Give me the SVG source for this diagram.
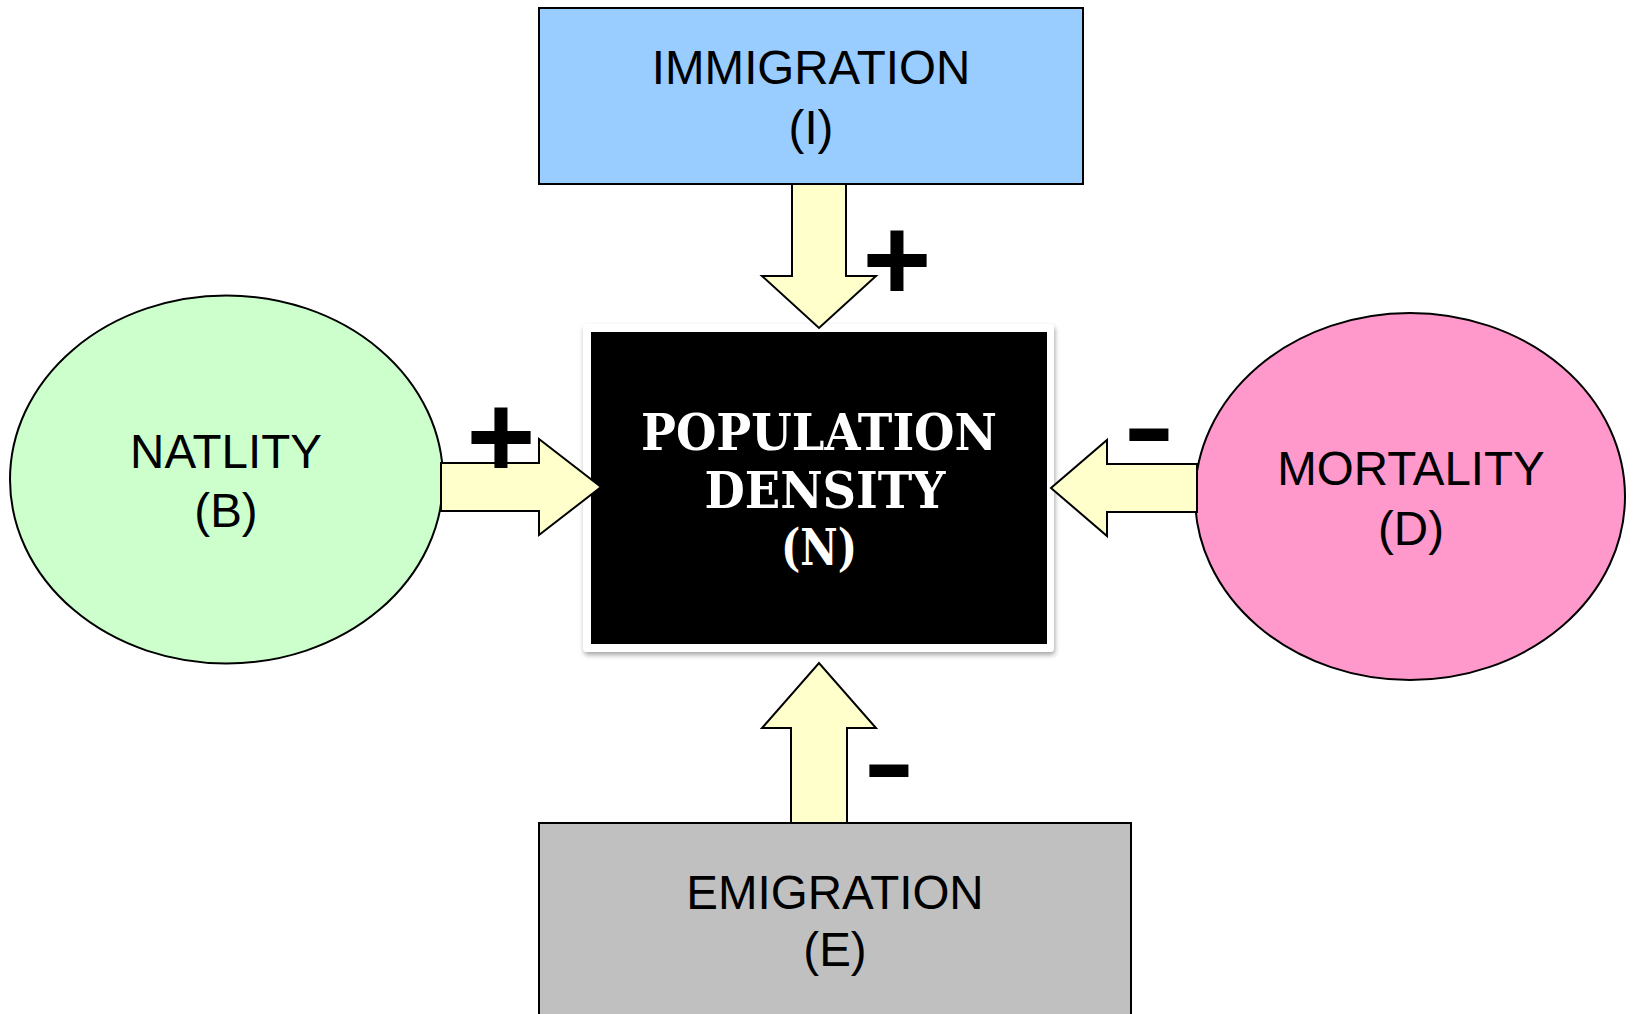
<svg xmlns="http://www.w3.org/2000/svg" width="1634" height="1014" viewBox="0 0 1634 1014">
<style>
.lbl{font-family:"Liberation Sans",Arial,sans-serif;font-size:47.5px;fill:#000;text-anchor:middle}
.ctr{font-family:"DejaVu Serif","Liberation Serif",serif;font-weight:bold;font-size:50px;fill:#fff;text-anchor:middle}
.arrow{fill:#FFFFCC;stroke:#000;stroke-width:2;stroke-linejoin:miter}
.plus{font-family:"Liberation Sans",Arial,sans-serif;font-weight:bold;font-size:118px;fill:#000;text-anchor:middle}
.minus{font-family:"Liberation Sans",Arial,sans-serif;font-size:160px;fill:#000;text-anchor:middle}
.outline{stroke:#000;stroke-width:2}
</style>
<defs>
<filter id="shadow" x="-5%" y="-5%" width="110%" height="115%">
<feDropShadow dx="1" dy="3" stdDeviation="2.5" flood-color="#000" flood-opacity="0.35"/>
</filter>
</defs>
<rect width="1634" height="1014" fill="#fff"/>
<g id="immigration">
<rect class="outline" x="539" y="8" width="544" height="176" fill="#99CCFF"/>
<text class="lbl" x="811" y="84">IMMIGRATION</text>
<text class="lbl" x="811" y="144">(I)</text>
</g>
<g id="natality">
<ellipse class="outline" cx="226.5" cy="479.5" rx="216.5" ry="184" fill="#CCFFCC"/>
<text class="lbl" x="226" y="468">NATLITY</text>
<text class="lbl" x="226" y="527">(B)</text>
</g>
<g id="mortality">
<ellipse class="outline" cx="1410" cy="496.5" rx="215" ry="183.5" fill="#FF99CC"/>
<text class="lbl" x="1411" y="485">MORTALITY</text>
<text class="lbl" x="1411" y="545">(D)</text>
</g>
<g id="emigration">
<rect class="outline" x="539" y="823" width="592" height="200" fill="#C0C0C0"/>
<text class="lbl" x="835" y="909">EMIGRATION</text>
<text class="lbl" x="835" y="966">(E)</text>
</g>
<g id="population-density">
<rect x="583" y="324" width="471" height="328" rx="4" fill="#fff" filter="url(#shadow)"/>
<rect x="591" y="332" width="456" height="312" fill="#000"/>
<text class="ctr" x="819" y="450" textLength="356" lengthAdjust="spacingAndGlyphs">POPULATION</text>
<text class="ctr" x="825" y="508" textLength="241" lengthAdjust="spacingAndGlyphs">DENSITY</text>
<text class="ctr" x="819" y="565" textLength="76" lengthAdjust="spacingAndGlyphs">(N)</text>
</g>
<g id="connectors">
<polygon class="arrow" points="792,184 846,184 846,276 876,276 819,328 762,276 792,276"/>
<polygon class="arrow" points="441,463 539,463 539,439 601,487 539,535 539,511 441,511"/>
<polygon class="arrow" points="1197,464 1107,464 1107,440 1051,488 1107,536 1107,512 1197,512"/>
<polygon class="arrow" points="791,823 791,728 762,728 819,663 876,728 847,728 847,823"/>
<text class="plus" x="897" y="300">+</text>
<text class="plus" x="501" y="477">+</text>
<text class="minus" x="1149" y="477">-</text>
<text class="minus" x="889" y="813">-</text>
</g>
</svg>
